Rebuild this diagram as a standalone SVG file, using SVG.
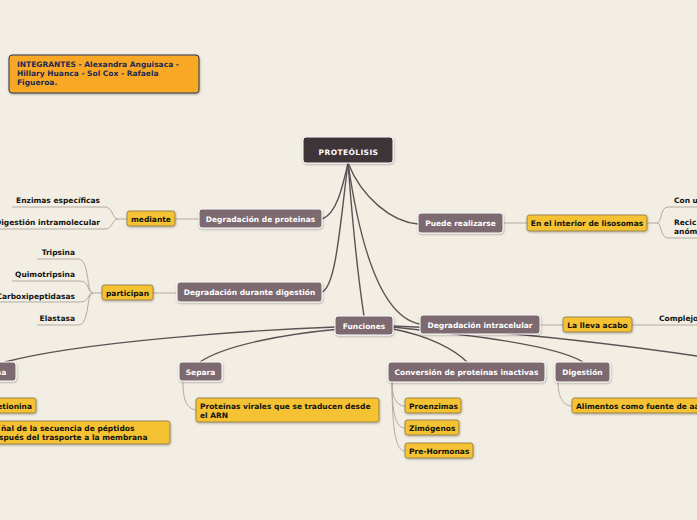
<svg xmlns="http://www.w3.org/2000/svg" width="697" height="520" viewBox="0 0 697 520">
<style>
text{font-family:"DejaVu Sans","Verdana",sans-serif;font-weight:bold;font-size:7.5px}
.main rect{fill:#7b6b6f;stroke:#ffffff;stroke-width:1}
.main text{fill:#ffffff;text-anchor:middle}
.sub rect{fill:#f4c232;stroke:#8a7440;stroke-width:0.8}
.sub text{fill:#111111}
.sub text.c{text-anchor:middle}
.leaf text{fill:#111111;text-anchor:end}
.br{fill:none;stroke:#5c5256;stroke-width:1.4}
.lf{fill:none;stroke:#b2aaa3;stroke-width:1}
</style>
<defs>
<filter id="sh" x="-10%" y="-20%" width="120%" height="160%">
<feDropShadow dx="0.5" dy="1" stdDeviation="0.8" flood-color="#000" flood-opacity="0.3"/>
</filter>
</defs>
<rect x="0" y="0" width="697" height="520" fill="#f3eee3"/>

<g id="connectors">
<path class="br" d="M348,163 C342,190 336,214 322,219"/>
<path class="br" d="M348,163 C340,225 336,286 322,292"/>
<path class="br" d="M348,163 C362,198 392,222 418,224"/>
<path class="br" d="M348,163 C362,260 385,318 420,324"/>
<path class="br" d="M348,163 C353,230 360,290 364,316"/>
<path class="br" d="M336,327 C250,330 80,342 5,362"/>
<path class="br" stroke-width="1" d="M340,329 C285,334 225,345 200,362"/>
<path class="br" stroke-width="1" d="M393,329 C430,336 455,350 467,362"/>
<path class="br" stroke-width="1" d="M393,327 C470,335 555,345 583,362"/>
<path class="br" stroke-width="1.2" d="M393,326 C500,330 620,345 697,356"/>
<line class="lf" x1="175" y1="219" x2="199" y2="219"/>
<path class="lf" d="M127,219 L118,219 C112,219 113,207 105,207 L12,207"/>
<path class="lf" d="M118,219 C112,219 113,229 105,229 L0,229"/>
<line class="lf" x1="153" y1="293" x2="177" y2="293"/>
<path class="lf" d="M102,293 L93,293 C86,293 90,259 78,259 L37,259"/>
<path class="lf" d="M93,293 C87,293 90,281 80,281 L12,281"/>
<path class="lf" d="M93,293 C87,293 90,302 80,302 L0,302"/>
<path class="lf" d="M93,293 C86,293 90,325 78,325 L37,325"/>
<line class="lf" x1="503" y1="223" x2="527" y2="223"/>
<path class="lf" d="M647,223 L657,223 C662,223 660,207 668,207 L697,207"/>
<path class="lf" d="M657,223 C662,223 660,238 668,238 L697,238"/>
<line class="lf" x1="540" y1="325" x2="563" y2="325"/>
<line class="lf" x1="632" y1="325" x2="697" y2="325"/>
<path class="lf" d="M183,381 C183,400 186,408 196,410"/>
<path class="lf" d="M392,382 C392,400 398,406 405,406"/>
<path class="lf" d="M392,382 C392,420 398,428 405,428"/>
<path class="lf" d="M392,382 C392,440 398,451 405,451"/>
<path class="lf" d="M558,382 C558,398 564,406 572,406"/>
</g>

<g id="integrantes">
<rect x="9" y="55" width="190" height="38" rx="3" fill="#f9a825" stroke="#2a3550" stroke-width="1" filter="url(#sh)"/>
<text x="17" y="67" fill="#1c2a52">INTEGRANTES - Alexandra Anguisaca -</text>
<text x="17" y="76" fill="#1c2a52">Hillary Huanca - Sol Cox - Rafaela</text>
<text x="17" y="85" fill="#1c2a52">Figueroa.</text>
</g>

<g id="root">
<rect x="303" y="137" width="90" height="26" rx="3" fill="#3e3437" stroke="#ffffff" stroke-width="1" filter="url(#sh)"/>
<text x="348.5" y="154.5" fill="#ffffff" text-anchor="middle" font-size="9.5px" letter-spacing="0.4">PROTEÓLISIS</text>
</g>

<g id="degradacion-proteinas" class="main">
<rect x="199" y="209" width="123" height="19" rx="3" filter="url(#sh)"/>
<text x="260.5" y="221.5">Degradación de proteinas</text>
</g>
<g id="mediante" class="sub">
<rect x="127" y="211" width="48" height="15" rx="2.5" filter="url(#sh)"/>
<text class="c" x="151" y="221.5">mediante</text>
</g>
<g id="enzimas" class="leaf"><text x="100" y="203">Enzimas específicas</text></g>
<g id="digestion-intra" class="leaf"><text x="100" y="225">Digestión intramolecular</text></g>

<g id="degradacion-digestion" class="main">
<rect x="177" y="282" width="145" height="20" rx="3" filter="url(#sh)"/>
<text x="249.5" y="295">Degradación durante digestión</text>
</g>
<g id="participan" class="sub">
<rect x="102" y="285" width="51" height="15" rx="2.5" filter="url(#sh)"/>
<text class="c" x="127.5" y="295.5">participan</text>
</g>
<g id="tripsina" class="leaf"><text x="75" y="255">Tripsina</text></g>
<g id="quimotripsina" class="leaf"><text x="75" y="277">Quimotripsina</text></g>
<g id="carboxipeptidasas" class="leaf"><text x="75" y="299">Carboxipeptidasas</text></g>
<g id="elastasa" class="leaf"><text x="75" y="321">Elastasa</text></g>

<g id="puede-realizarse" class="main">
<rect x="418" y="213" width="85" height="20" rx="3" filter="url(#sh)"/>
<text x="460.5" y="225.5">Puede realizarse</text>
</g>
<g id="lisosomas" class="sub">
<rect x="527" y="215" width="120" height="16" rx="2.5" filter="url(#sh)"/>
<text class="c" x="587" y="225.5">En el interior de lisosomas</text>
</g>
<g id="con-u"><text x="674" y="203" fill="#111">Con u</text></g>
<g id="recic"><text x="674" y="225" fill="#111">Recic</text><text x="674" y="234" fill="#111">anóm</text></g>

<g id="degradacion-intracelular" class="main">
<rect x="420" y="315" width="120" height="19" rx="3" filter="url(#sh)"/>
<text x="480" y="327.5">Degradación intracelular</text>
</g>
<g id="la-lleva" class="sub">
<rect x="563" y="317" width="69" height="15" rx="2.5" filter="url(#sh)"/>
<text class="c" x="597.5" y="327.5">La lleva acabo</text>
</g>
<g id="complejo"><text x="659" y="321" fill="#111">Complejo</text></g>

<g id="funciones" class="main">
<rect x="335" y="316" width="58" height="19" rx="3" filter="url(#sh)"/>
<text x="364" y="328.5">Funciones</text>
</g>

<g id="left-node" class="main">
<rect x="-40" y="362" width="56" height="19" rx="3" filter="url(#sh)"/>
<text x="1" y="374.5" text-anchor="start">na</text>
</g>
<g id="metionina" class="sub">
<rect x="-20" y="398" width="56" height="15" rx="2.5" filter="url(#sh)"/>
<text x="32" y="408.5" text-anchor="end">etionina</text>
</g>
<g id="senal" class="sub">
<rect x="-20" y="421" width="190" height="23" rx="2.5" filter="url(#sh)"/>
<text x="1" y="430.5">ñal de la secuencia de péptidos</text>
<text x="-1" y="440">spués del trasporte a la membrana</text>
</g>

<g id="separa" class="main">
<rect x="179" y="362" width="43" height="19" rx="3" filter="url(#sh)"/>
<text x="200.5" y="374.5">Separa</text>
</g>
<g id="proteinas-virales" class="sub">
<rect x="196" y="398" width="183" height="24" rx="2.5" filter="url(#sh)"/>
<text x="200" y="408.5">Proteinas virales que se traducen desde</text>
<text x="200" y="418">el ARN</text>
</g>

<g id="conversion" class="main">
<rect x="388" y="362" width="157" height="20" rx="3" filter="url(#sh)"/>
<text x="466.5" y="374.5">Conversión de proteinas inactivas</text>
</g>
<g id="proenzimas" class="sub">
<rect x="405" y="398" width="56" height="15" rx="2.5" filter="url(#sh)"/>
<text x="409" y="408.5">Proenzimas</text>
</g>
<g id="zimogenos" class="sub">
<rect x="405" y="420" width="54" height="15" rx="2.5" filter="url(#sh)"/>
<text x="409" y="430.5">Zimógenos</text>
</g>
<g id="prehormonas" class="sub">
<rect x="405" y="443" width="68" height="15" rx="2.5" filter="url(#sh)"/>
<text x="409" y="453.5">Pre-Hormonas</text>
</g>

<g id="digestion" class="main">
<rect x="555" y="362" width="55" height="20" rx="3" filter="url(#sh)"/>
<text x="582.5" y="374.5">Digestión</text>
</g>
<g id="alimentos" class="sub">
<rect x="572" y="398" width="140" height="15" rx="2.5" filter="url(#sh)"/>
<text x="576" y="408.5">Alimentos como fuente de aa</text>
</g>
</svg>
